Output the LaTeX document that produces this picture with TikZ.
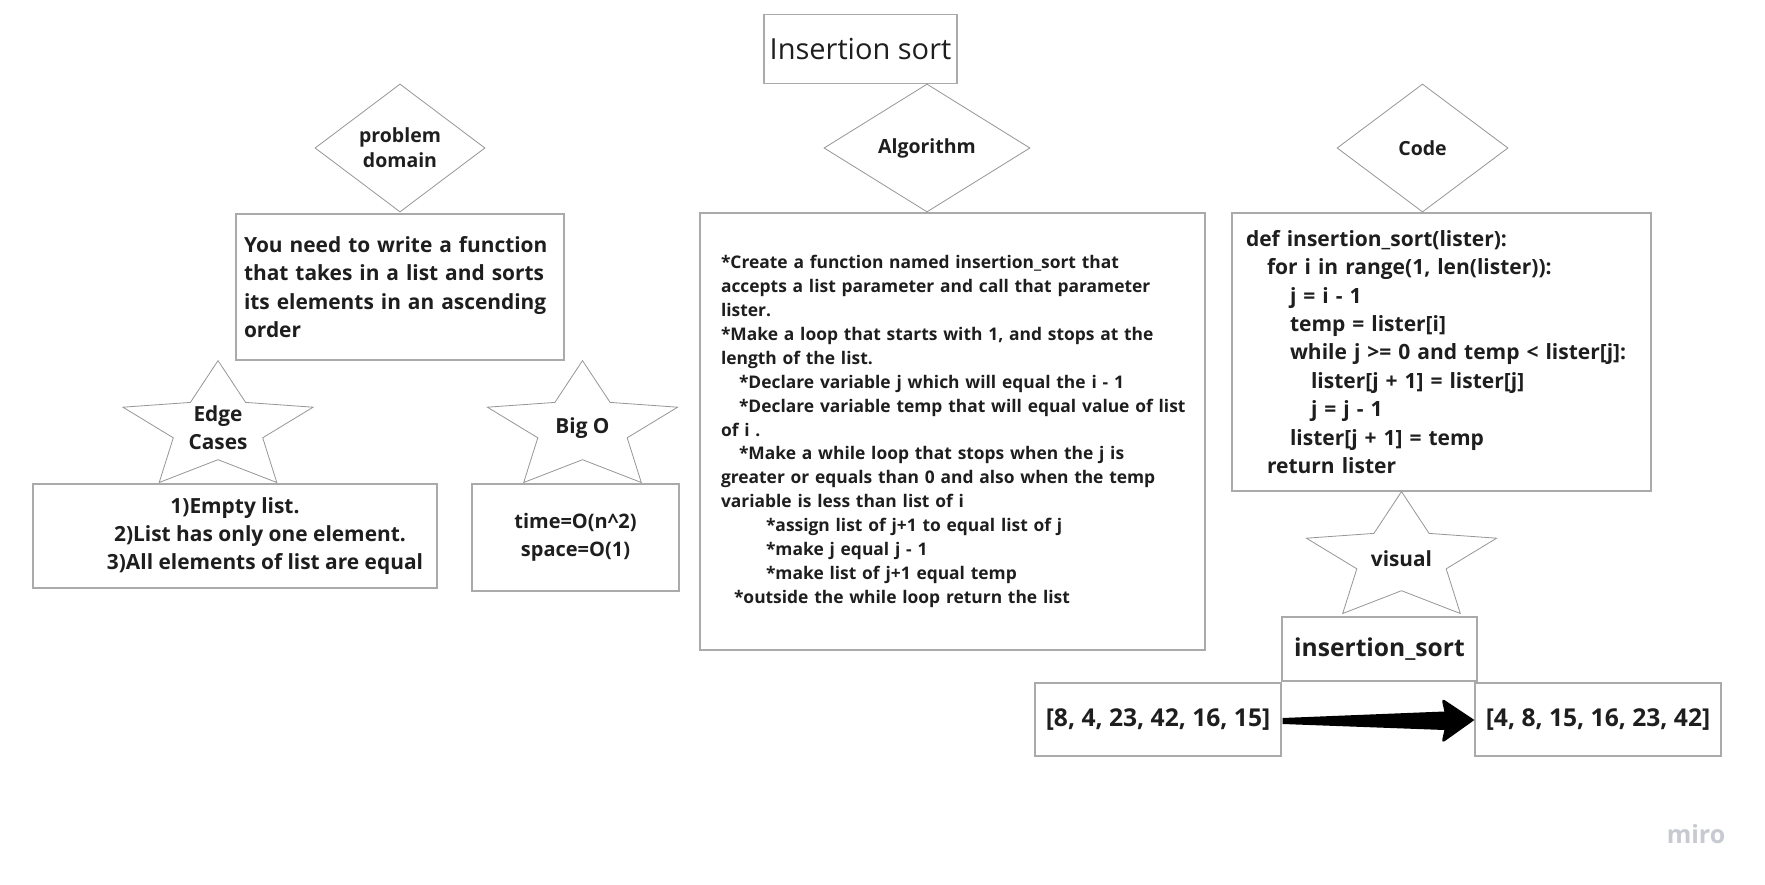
\documentclass[tikz,border=0pt]{standalone}
\usepackage{fontspec}
\setmainfont{Open Sans}
\usepackage{tikz}
\usetikzlibrary{shapes.geometric, arrows.meta, positioning, calc}
\definecolor{InkGray}{RGB}{30, 30, 30}
\definecolor{FrameGray}{RGB}{170, 170, 170}
\definecolor{ShapeGray}{RGB}{150, 150, 150}
\definecolor{MiroGray}{RGB}{200, 202, 210}

\tikzset{
    framebox/.style={draw=FrameGray, line width=1.2pt, fill=white, inner sep=0pt, text=InkGray},
    choicebox/.style={diamond, draw=ShapeGray, line width=0.8pt, inner sep=0pt, text=InkGray, align=center,
        font=\fontsize{19.5}{24.8}\selectfont\bfseries},
    starline/.style={draw=ShapeGray, line width=0.8pt},
    starlabel/.style={inner sep=0pt, text=InkGray, align=center, font=\fontsize{20.8}{28}\selectfont\bfseries},
    starpic/.pic={
        \draw[starline] (0,-67.4) -- (-27.6,-25.6) -- (-95.1,-20.8) -- (-44.7,9.8) -- (-58.8,54.5)
            -- (0,31.7) -- (58.8,54.5) -- (44.7,9.8) -- (95.1,-20.8) -- (27.6,-25.6) -- cycle;
    }
}

\begin{document}
\begin{tikzpicture}[x=1pt, y=-1pt]
    \useasboundingbox[fill=white] (0,0) rectangle (1765,885);

    % title
    \node[framebox, minimum width=193, minimum height=68.7, font=\fontsize{29}{34}\selectfont] (title) at (860.5,49) {Insertion sort};

    % problem domain
    \node[choicebox, minimum width=170, minimum height=128] (domain) at (400,148) {problem\\domain};
    \node[framebox, minimum width=328, minimum height=146, text width=312, align=left,
        font=\fontsize{20.9}{28.5}\selectfont\bfseries, below=1pt of domain] (task)
        {You need to write a function\\that takes in a list and sorts\\its elements in an ascending\\order};

    % edge cases and big O
    \path (218,428) pic {starpic};
    \node[starlabel] (edge) at (218,428) {Edge\\Cases};
    \node[framebox, minimum width=404, minimum height=104, align=center,
        font=\fontsize{20.9}{28}\selectfont\bfseries] (cases) at (235,536)
        {1)Empty list.\\\hspace*{50pt}2)List has only one element.\\\hspace*{60pt}3)All elements of list are equal};
    \path (582.5,428) pic {starpic};
    \node[starlabel] (bigo) at (582.5,428) {Big O};
    \node[framebox, minimum width=207, minimum height=107, align=center,
        font=\fontsize{20}{28}\selectfont\bfseries] (cost) at (575.5,537.5)
        {time=O(n\textasciicircum 2)\\space=O(1)};

    % algorithm
    \node[choicebox, minimum width=206, minimum height=128] (algo) at (927,148) {Algorithm};
    \node[framebox, minimum width=505, minimum height=437, inner xsep=21, text width=463, align=left,
        font=\fontsize{17.4}{23.9}\selectfont\bfseries] (steps) at (952.5,431.5)
        {*Create a function named insertion\_sort that\\
         accepts a list parameter and call that parameter\\
         lister.\\
         {}*Make a loop that starts with 1, and stops at the\\
         length of the list.\\
         \hspace*{18pt}*Declare variable j which will equal the i - 1\\
         \mbox{\hspace*{18pt}*Declare variable temp that will equal value of list}\\
         of i .\\
         \hspace*{18pt}*Make a while loop that stops when the j is\\
         greater or equals than 0 and also when the temp\\
         variable is less than list of i\\
         \hspace*{45pt}*assign list of j+1 to equal list of j\\
         \hspace*{45pt}*make j equal j - 1\\
         \hspace*{45pt}*make list of j+1 equal temp\\
         \hspace*{13pt}*outside the while loop return the list};

    % code
    \node[choicebox, minimum width=171, minimum height=128] (code) at (1422.5,148) {Code};
    \node[framebox, minimum width=419, minimum height=278, inner xsep=14, text width=391, align=left,
        font=\fontsize{21}{28.4}\selectfont\bfseries] (listing) at (1441.5,352)
        {def insertion\_sort(lister):\\
         \hspace*{21pt}for i in range(1, len(lister)):\\
         \hspace*{44pt}j = i - 1\\
         \hspace*{44pt}temp = lister[i]\\
         \hspace*{44pt}while j >= 0 and temp < lister[j]:\\
         \hspace*{65pt}lister[j + 1] = lister[j]\\
         \hspace*{65pt}j = j - 1\\
         \hspace*{44pt}lister[j + 1] = temp\\
         \hspace*{21pt}return lister};

    % visual
    \path (1401.5,559) pic {starpic};
    \node[starlabel] (visual) at (1401.5,559) {visual};
    \node[framebox, minimum width=195, minimum height=64, font=\fontsize{24.6}{28}\selectfont\bfseries] (func) at (1379.5,649) {insertion\_sort};
    \node[framebox, minimum width=246, minimum height=73, font=\fontsize{24.6}{28}\selectfont\bfseries] (unsorted) at (1158,719.5) {[8, 4, 23, 42, 16, 15]};
    \node[framebox, minimum width=246, minimum height=73, font=\fontsize{24.6}{28}\selectfont\bfseries] (sorted) at (1598,719.5) {[4, 8, 15, 16, 23, 42]};

    \fill[black] ($(unsorted.east)+(1,-1.5)$) -- ($(sorted.west)+(-30,-8)$)
        [rounded corners=4] -- ($(sorted.west)+(-33,-21.5)$) [sharp corners] -- ($(sorted.west)+(0,0.5)$)
        [rounded corners=4] -- ($(sorted.west)+(-33,24)$) [sharp corners] -- ($(sorted.west)+(-30,10.5)$)
        -- ($(unsorted.east)+(1,4.5)$) -- cycle;

    \node[text=MiroGray, font=\fontsize{25}{28}\selectfont\bfseries] (miro) at (1696,834) {miro};
\end{tikzpicture}
\end{document}
